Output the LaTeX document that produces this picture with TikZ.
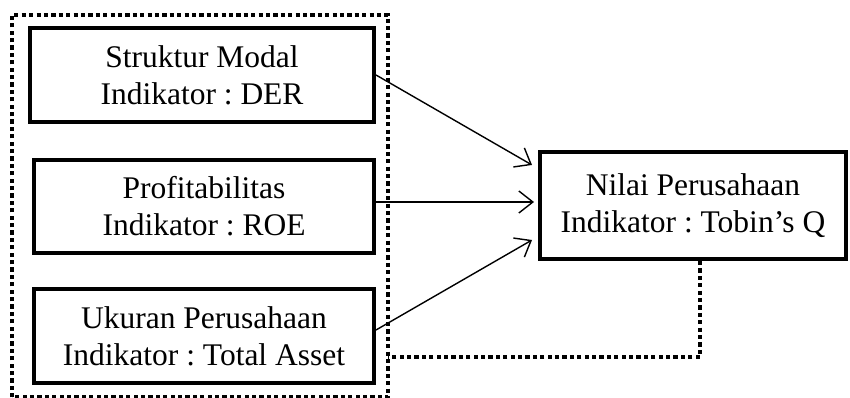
\documentclass[tikz,border=0pt]{standalone}
\usepackage{fontspec}
\setmainfont{Liberation Serif}
\usetikzlibrary{arrows.meta}
\begin{document}
\frenchspacing
\begin{tikzpicture}[x=1pt,y=1pt,
  box/.style={draw,line width=4pt,align=center,inner sep=0pt,
    font=\fontsize{31.5}{37}\selectfont},
  dots/.style={line width=4.2pt,dash pattern=on 4.2pt off 3.2pt},
  arr/.style={line width=1.4pt,-{Straight Barb[length=14pt,width=22pt,line width=1.4pt]}}]
\useasboundingbox (0,0) rectangle (850,398);
\draw[dots] (12,0.5) rectangle (388,383);
\node[box,minimum width=344pt,minimum height=94pt] (a) at (202,323) {Struktur Modal\\Indikator : DER};
\node[box,minimum width=340pt,minimum height=93pt] (b) at (204,191.5) {Profitabilitas\\Indikator : ROE};
\node[box,minimum width=340pt,minimum height=94pt] (c) at (204,62) {Ukuran Perusahaan\\Indikator : Total Asset};
\node[box,minimum width=306pt,minimum height=107pt] (d) at (693,192.5) {Nilai Perusahaan\\Indikator : Tobin’s Q};
\draw[arr] (a.east) -- (532,233);
\draw[arr] (b.east|-0,196) -- (534,196);
\draw[arr] (c.east|-0,68) -- (532,158);
\coordinate (k) at (700,41);
\draw[dots] (d.south-|k) -- (k) -- (388,41);
\end{tikzpicture}
\end{document}
